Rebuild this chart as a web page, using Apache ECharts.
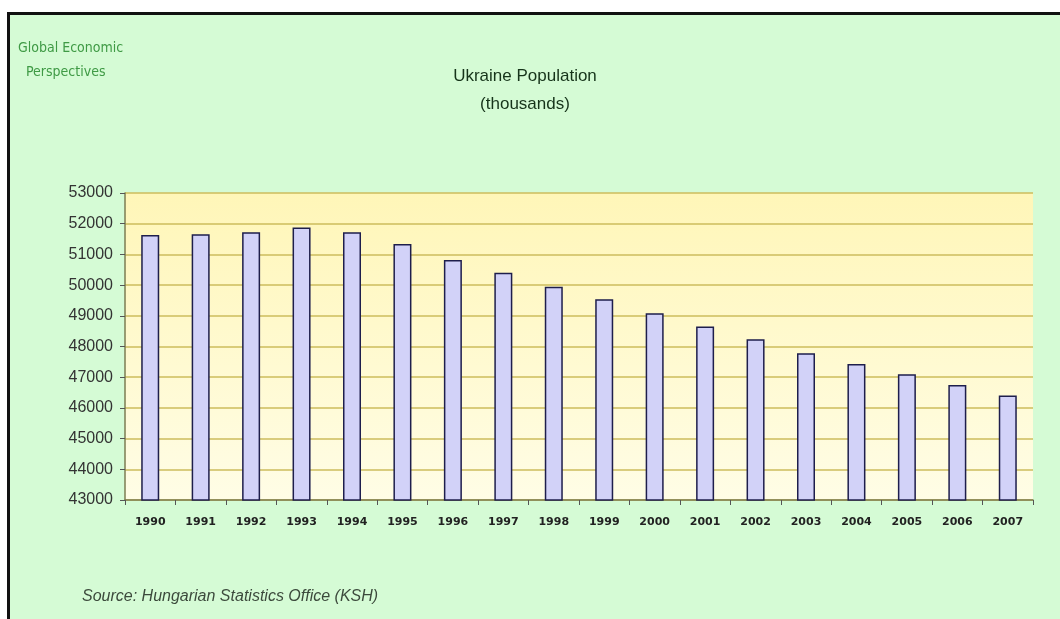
<!DOCTYPE html>
<html>
<head>
<meta charset="utf-8">
<script src="https://cdn.jsdelivr.net/npm/echarts@6/dist/echarts.min.js"></script>
<style>
html, body { margin: 0; padding: 0; background: #fff; }
#chart { width: 1060px; height: 619px; }
</style>
</head>
<body>
<div id="chart"></div>
<script>
// Ukraine population, thousands
const years = ['1990', '1991', '1992', '1993', '1994', '1995', '1996', '1997', '1998',
  '1999', '2000', '2001', '2002', '2003', '2004', '2005', '2006', '2007']
const population = [51630, 51660, 51720, 51880, 51720, 51340, 50820, 50400, 49950,
  49540, 49080, 48650, 48240, 47780, 47430, 47100, 46750, 46400]

const yMin = 43000
const yMax = 53000
const yStep = 1000

const myChart = echarts.init(document.getElementById('chart'))
const option = {
  backgroundColor: '#ffffff',
  animation: false,
  graphic: [
    {
      type: 'rect',
      z: -10,
      shape: { x: 8.5, y: 13.5, width: 1060, height: 620 },
      style: { fill: '#d5fbd5', stroke: '#111', lineWidth: 3 }
    },
    {
      type: 'text',
      left: 18, top: 36,
      style: {
        text: 'Global Economic\n  Perspectives',
        fill: '#3f9a45',
        font: '14px "DejaVu Sans Condensed", "Liberation Sans Narrow", sans-serif',
        lineHeight: 24
      }
    },
    {
      type: 'text',
      left: 82, top: 589,
      style: {
        text: 'Source: Hungarian Statistics Office (KSH)',
        fill: '#3c4a3c',
        font: 'italic 16px "Liberation Sans", Arial, sans-serif'
      }
    }
  ],
  title: {
    text: 'Ukraine Population\n(thousands)',
    left: 520,
    textAlign: 'center',
    top: 57,
    textStyle: {
      color: '#16341a',
      fontFamily: '"Liberation Sans", Arial, sans-serif',
      fontSize: 17,
      fontWeight: 'normal',
      lineHeight: 28
    }
  },
  grid: {
    left: 125,
    right: 27,
    top: 193,
    bottom: 119,
    show: true,
    borderWidth: 0,
    backgroundColor: {
      type: 'linear', x: 0, y: 0, x2: 0, y2: 1,
      colorStops: [
        { offset: 0, color: '#fff6b8' },
        { offset: 1, color: '#fffde6' }
      ]
    }
  },
  xAxis: {
    type: 'category',
    data: years,
    axisLine: { lineStyle: { color: '#7c7c52', width: 1.5 } },
    axisTick: { show: true, length: 5, lineStyle: { color: '#555' } },
    axisLabel: {
      color: '#222',
      fontSize: 11,
      fontWeight: 'bold',
      fontFamily: '"DejaVu Sans", sans-serif',
      margin: 17
    }
  },
  yAxis: {
    type: 'value',
    min: yMin,
    max: yMax,
    interval: yStep,
    axisLine: { show: true, lineStyle: { color: '#7c7c52', width: 1.5 } },
    axisTick: { show: true, length: 5, lineStyle: { color: '#555' } },
    axisLabel: {
      color: '#333',
      fontSize: 16,
      fontFamily: '"Liberation Sans", Arial, sans-serif',
      margin: 12,
      formatter: v => String(v)
    },
    splitLine: { lineStyle: { color: '#cdbd5c', width: 1.5 } }
  },
  series: [{
    type: 'bar',
    data: population,
    barWidth: 18,
    itemStyle: {
      color: '#d2d2f8',
      borderColor: '#1e1e4c',
      borderWidth: 1.5
    }
  }]
}
myChart.setOption(option)
</script>
</body>
</html>
